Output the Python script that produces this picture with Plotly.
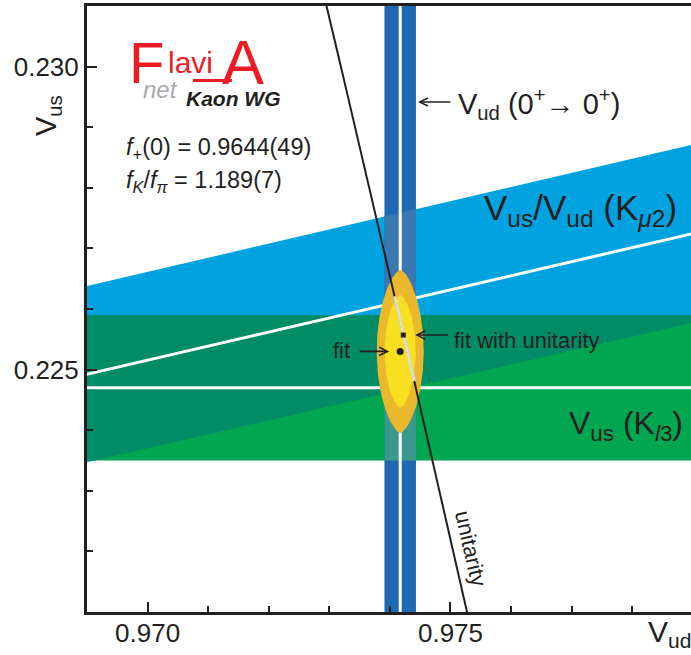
import numpy as np
import plotly.graph_objects as go

# ---------------- data ----------------
vud_superallowed = 0.97417          # V_ud (0+ -> 0+) central value
vud_superallowed_err = 0.00026      # half width of band
vus_kl3 = 0.2247                    # V_us (K_l3)
vus_kl3_err = 0.0012
ratio_km2 = 0.23212                 # V_us / V_ud (K_mu2)
ratio_km2_err = 0.0015
fit_point = [0.97417, 0.22530]      # fit (Vud, Vus)
fit_sigma_inner = [0.000256, 0.000932]
fit_sigma_outer = [0.000388, 0.001345]
fit_unit_point = [0.97422, 0.22557] # fit with unitarity
unit_fit_vus_range = [0.22481, 0.22621]
unitarity_vus_ends = [0.2205, 0.2315]

x_range = [0.969, 0.97897]
y_range = [0.221, 0.231]
x_tickvals = [0.970, 0.975]
y_tickvals = [0.225, 0.230]

# ---------------- colours ----------------
C_SKY = "#00a3e0"
C_GREEN = "#00a650"
C_OVER = "#008c64"
C_VUD = "#1f69b3"
C_VUD_SKY = "#3b77b0"
C_VUD_GREEN = "#3a988c"
C_VUD_OVER = "#35897f"
C_ELL_OUT = "#e9b82c"
C_ELL_IN = "#f8e021"
C_INK = "#231f20"
C_RED = "#ed1c24"
FONT = "Liberation Sans, Arial, sans-serif"

W, H = 691, 655
ML, MR, MT, MB = 87, 0, 6, 43


def clip(poly, fn):
    """Sutherland-Hodgman clip of a convex polygon against half-plane fn(p) >= 0."""
    out = []
    n = len(poly)
    for i in range(n):
        p, q = poly[i], poly[(i + 1) % n]
        fp, fq = fn(p), fn(q)
        if fp >= 0:
            out.append(p)
        if (fp >= 0) != (fq >= 0):
            t = fp / (fp - fq)
            out.append((p[0] + t * (q[0] - p[0]), p[1] + t * (q[1] - p[1])))
    return out


xa, xb = x_range[0] - 0.001, x_range[1] + 0.001
ya, yb = y_range[0] - 0.001, y_range[1] + 0.001
rlo, rhi = ratio_km2 - ratio_km2_err, ratio_km2 + ratio_km2_err
glo, ghi = vus_kl3 - vus_kl3_err, vus_kl3 + vus_kl3_err
vlo, vhi = vud_superallowed - vud_superallowed_err, vud_superallowed + vud_superallowed_err

sky = [(xa, rlo * xa), (xb, rlo * xb), (xb, rhi * xb), (xa, rhi * xa)]
green = [(xa, glo), (xb, glo), (xb, ghi), (xa, ghi)]
vud = [(vlo, ya), (vhi, ya), (vhi, yb), (vlo, yb)]


def in_green(poly):
    return clip(clip(poly, lambda p: p[1] - glo), lambda p: ghi - p[1])


def in_vud(poly):
    return clip(clip(poly, lambda p: p[0] - vlo), lambda p: vhi - p[0])


overlap = in_green(sky)

fig = go.Figure()


def add_poly(poly, color):
    xs = [p[0] for p in poly] + [poly[0][0]]
    ys = [p[1] for p in poly] + [poly[0][1]]
    fig.add_trace(go.Scatter(x=xs, y=ys, mode="lines", fill="toself",
                             fillcolor=color, line=dict(width=0, color=color),
                             hoverinfo="skip", showlegend=False))


add_poly(sky, C_SKY)
add_poly(green, C_GREEN)
add_poly(overlap, C_OVER)
add_poly(vud, C_VUD)
add_poly(in_vud(sky), C_VUD_SKY)
add_poly(in_vud(green), C_VUD_GREEN)
add_poly(in_vud(overlap), C_VUD_OVER)


def add_line(xs, ys, color, width):
    fig.add_trace(go.Scatter(x=xs, y=ys, mode="lines", line=dict(color=color, width=width),
                             hoverinfo="skip", showlegend=False))


# central white lines
add_line([vud_superallowed, vud_superallowed], [ya, yb], "white", 3)
add_line([xa, xb], [vus_kl3, vus_kl3], "white", 3)
add_line([xa, xb], [ratio_km2 * xa, ratio_km2 * xb], "white", 3)

# fit contours (slightly lens-shaped as in the original drawing)
t = np.linspace(0, 2 * np.pi, 241)
shape_k = 1.3
for sig, col in [(fit_sigma_outer, C_ELL_OUT), (fit_sigma_inner, C_ELL_IN)]:
    c = np.cos(t)
    ex = fit_point[0] + sig[0] * np.sign(c) * np.abs(c) ** shape_k
    ey = fit_point[1] + sig[1] * np.sin(t)
    fig.add_trace(go.Scatter(x=ex, y=ey, mode="lines", fill="toself", fillcolor=col,
                             line=dict(width=0, color=col), hoverinfo="skip", showlegend=False))

# unitarity line |Vud|^2 + |Vus|^2 = 1
uv = np.linspace(unitarity_vus_ends[0], unitarity_vus_ends[1], 60)
add_line(np.sqrt(1 - uv ** 2), uv, C_INK, 2)
sv = np.linspace(unit_fit_vus_range[0], unit_fit_vus_range[1], 20)
add_line(np.sqrt(1 - sv ** 2), sv, "#dcdcdc", 3)

# fit points
fig.add_trace(go.Scatter(x=[fit_point[0]], y=[fit_point[1]], mode="markers",
                         marker=dict(color=C_INK, size=7), hoverinfo="skip", showlegend=False))
fig.add_trace(go.Scatter(x=[fit_unit_point[0]], y=[fit_unit_point[1]], mode="markers",
                         marker=dict(color=C_INK, size=5, symbol="square"), hoverinfo="skip",
                         showlegend=False))


def pxx(x):
    return (x - ML) / (W - ML - MR)


def pxy(y):
    return 1 - (y - MT) / (H - MT - MB)


anns = []


def text(s, x, y, size, color=C_INK, xanchor="left", angle=0, family=FONT):
    anns.append(dict(text=s, x=pxx(x), y=pxy(y), xref="paper", yref="paper",
                     xanchor=xanchor, yanchor="middle", showarrow=False, textangle=angle,
                     font=dict(size=size, color=color, family=family)))


# axis titles
text("V<sub>us</sub>", 48, 116, 29, xanchor="center", angle=-90)
text("V<sub>ud</sub>", 646, 633, 30)

# logo
text("F", 127, 62, 58, color=C_RED, family="Liberation Sans Narrow, Liberation Sans, Arial")
text("lavi", 166, 63, 30, color=C_RED)
text("A", 220, 62, 63, color=C_RED)
text("<i>net</i>", 141, 89, 24, color="#a7a9ac")
text("<b><i>Kaon WG</i></b>", 184, 98, 21)

# inputs
text("<i>f</i><sub>+</sub>(0) = 0.9644(49)", 124, 148, 23.5)
text("<i>f</i><sub><i>K</i></sub>/<i>f</i><sub><i>π</i></sub> = 1.189(7)", 124, 181, 23.5)

# band labels
text("V<sub>us</sub>/V<sub>ud</sub> (K<sub><i>μ</i>2</sub>)", 482, 210, 35)
text("V<sub>us</sub> (K<sub><i>l</i>3</sub>)", 567, 425, 32)
text("unitarity", 471, 548, 22, xanchor="center", angle=77)

# arrows
anns.append(dict(x=vhi, y=pxy(102), xref="x", yref="paper", ax=36, ay=0,
                 text="", showarrow=True, arrowhead=5, arrowsize=1, arrowwidth=1.6,
                 arrowcolor=C_INK, standoff=2))
text("V<sub>ud</sub> (0<sup>+</sup>→ 0<sup>+</sup>)", 456, 104, 29)

anns.append(dict(x=fit_point[0], y=fit_point[1], xref="x", yref="y", ax=-42, ay=0,
                 text="", showarrow=True, arrowhead=5, arrowsize=1, arrowwidth=1.6,
                 arrowcolor=C_INK, standoff=11))
text("fit", 341, 351, 22, xanchor="center")
anns.append(dict(x=fit_unit_point[0], y=fit_unit_point[1], xref="x", yref="y", ax=46, ay=0,
                 text="", showarrow=True, arrowhead=5, arrowsize=1, arrowwidth=1.6,
                 arrowcolor=C_INK, standoff=12))
text("fit with unitarity", 452, 340, 22)

fig.update_layout(
    width=W, height=H,
    margin=dict(l=ML, r=MR, t=MT, b=MB, autoexpand=False),
    paper_bgcolor="white", plot_bgcolor="white",
    showlegend=False,
    annotations=anns,
    font=dict(family=FONT, color=C_INK),
)
# red underline of logo
fig.add_shape(type="line", xref="paper", yref="paper", x0=pxx(193), x1=pxx(232),
              y0=pxy(80.5), y1=pxy(80.5), line=dict(color=C_RED, width=3))

fig.update_xaxes(range=x_range, showgrid=False, zeroline=False, showline=True, automargin=False,
                 linecolor=C_INK, linewidth=3, mirror=True,
                 tickvals=x_tickvals, tickformat=".3f", ticks="inside", ticklen=10,
                 tickwidth=2, tickcolor=C_INK, tickfont=dict(size=26, color=C_INK, family=FONT),
                 ticklabelstandoff=-4,
                 minor=dict(dtick=0.001, tick0=0.969, ticks="inside", ticklen=6, tickwidth=2,
                            tickcolor=C_INK, showgrid=False))
fig.update_yaxes(range=y_range, showgrid=False, zeroline=False, showline=True, automargin=False,
                 linecolor=C_INK, linewidth=3,
                 tickvals=y_tickvals, tickformat=".3f", ticks="inside", ticklen=10,
                 tickwidth=2, tickcolor=C_INK, tickfont=dict(size=26, color=C_INK, family=FONT),
                 minor=dict(dtick=0.001, tick0=0.221, ticks="inside", ticklen=6, tickwidth=2,
                            tickcolor=C_INK, showgrid=False))

fig.write_html("out.html", config={"displayModeBar": False},
               post_script="document.body.style.margin='0';")
